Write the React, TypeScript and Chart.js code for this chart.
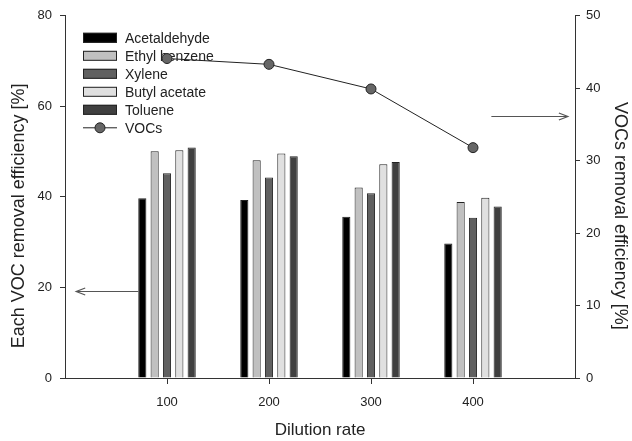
import React, { useEffect, useRef } from "react";
import { Chart, registerables } from "chart.js";

Chart.register(...registerables);

const dilutionRates = ["100", "200", "300", "400"];
const acetaldehyde = [39.7, 39.3, 35.6, 29.7];
const ethylBenzene = [50.1, 48.1, 42.1, 38.9];
const xylene = [45.2, 44.3, 40.8, 35.4];
const butylAcetate = [50.3, 49.6, 47.2, 39.8];
const toluene = [50.9, 49.0, 47.7, 37.9];
const vocs = [44.1, 43.3, 39.9, 31.8];
const leftTicks = [0, 20, 40, 60, 80];
const rightTicks = [0, 10, 20, 30, 40, 50];

const leftTitle = "Each VOC removal efficiency [%]";
const rightTitle = "VOCs removal efficiency [%]";
const xTitle = "Dilution rate";

const FONT = "'Liberation Sans', Arial, sans-serif";

const pad = (arr: number[]) => [null, ...arr, null];

const barSeries = [
  { label: "Acetaldehyde", data: acetaldehyde, color: "#000000" },
  { label: "Ethyl benzene", data: ethylBenzene, color: "#c0c0c0" },
  { label: "Xylene", data: xylene, color: "#606060" },
  { label: "Butyl acetate", data: butylAcetate, color: "#e0e0e0" },
  { label: "Toluene", data: toluene, color: "#404040" },
];

const legendPlugin = {
  id: "customLegend",
  beforeDatasetsDraw(chart: any) {
    const ctx = chart.ctx;
    const area = chart.chartArea;
    const x0 = area.left + 18;
    const y0 = area.top + 22;
    const step = 18;
    ctx.save();
    ctx.font = `14px ${FONT}`;
    ctx.textBaseline = "middle";
    ctx.textAlign = "left";
    chart.data.datasets.forEach((ds: any, i: number) => {
      const cy = y0 + i * step;
      if (ds.type === "line") {
        ctx.strokeStyle = "#222";
        ctx.lineWidth = 1;
        ctx.beginPath();
        ctx.moveTo(x0, cy);
        ctx.lineTo(x0 + 34, cy);
        ctx.stroke();
        ctx.beginPath();
        ctx.arc(x0 + 17, cy, 5, 0, Math.PI * 2);
        ctx.fillStyle = "#666";
        ctx.fill();
        ctx.stroke();
      } else {
        ctx.fillStyle = ds.backgroundColor;
        ctx.fillRect(x0, cy - 5, 34, 10);
        ctx.strokeStyle = "#222";
        ctx.lineWidth = 1;
        ctx.strokeRect(x0 + 0.5, cy - 4.5, 33, 9);
      }
      ctx.fillStyle = "#222";
      ctx.fillText(ds.label, x0 + 42, cy + 1);
    });
    ctx.restore();
  },
};

function drawArrow(ctx: any, x1: number, y: number, x2: number) {
  const dir = Math.sign(x2 - x1);
  ctx.beginPath();
  ctx.moveTo(x1, y);
  ctx.lineTo(x2, y);
  ctx.moveTo(x2 - dir * 9, y - 3.5);
  ctx.lineTo(x2, y);
  ctx.lineTo(x2 - dir * 9, y + 3.5);
  ctx.stroke();
}

const annotationPlugin = {
  id: "annotations",
  afterDraw(chart: any) {
    const ctx = chart.ctx;
    const xs = chart.scales.x;
    const yl = chart.scales.y;
    const yr = chart.scales.y1;
    ctx.save();
    ctx.strokeStyle = "#555";
    ctx.lineWidth = 1.2;
    const ly = Math.round(yl.getPixelForValue(19.3)) + 0.5;
    drawArrow(ctx, xs.getPixelForValue(0.72), ly, xs.getPixelForValue(0.11));
    const ry = Math.round(yr.getPixelForValue(36.2)) + 0.5;
    drawArrow(ctx, xs.getPixelForValue(4.18), ry, xs.getPixelForValue(4.93));

    // axis titles
    ctx.fillStyle = "#222";
    ctx.textAlign = "center";
    ctx.textBaseline = "middle";
    const midY = (yl.top + yl.bottom) / 2 + 19;
    ctx.save();
    ctx.translate(yl.left + 19, midY);
    ctx.rotate(-Math.PI / 2);
    ctx.font = `18px ${FONT}`;
    ctx.fillText(leftTitle, 0, 0);
    ctx.restore();
    ctx.save();
    ctx.translate(yr.right - 12, midY);
    ctx.rotate(Math.PI / 2);
    ctx.font = `18px ${FONT}`;
    ctx.fillText(rightTitle, 0, 0);
    ctx.restore();
    ctx.restore();
  },
};

export default function App() {
  const canvasRef = useRef<HTMLCanvasElement | null>(null);

  useEffect(() => {
    if (!canvasRef.current) return;
    const labels = ["0", ...dilutionRates, "500"];
    const chart = new Chart(canvasRef.current, {
      type: "bar",
      data: {
        labels,
        datasets: [
          ...barSeries.map((s) => ({
            type: "bar" as const,
            label: s.label,
            data: pad(s.data),
            backgroundColor: s.color,
            borderColor: "#222",
            borderWidth: 1,
            yAxisID: "y",
            categoryPercentage: 0.605,
            barPercentage: 0.66,
            order: 2,
          })),
          {
            type: "line" as const,
            label: "VOCs",
            data: pad(vocs),
            borderColor: "#222",
            borderWidth: 1,
            pointRadius: 5,
            pointBackgroundColor: "#666",
            pointBorderColor: "#222",
            pointBorderWidth: 1,
            tension: 0,
            yAxisID: "y1",
            order: 1,
          },
        ],
      } as any,
      options: {
        responsive: false,
        animation: false,
        layout: { padding: { top: 13, left: 0, right: 0, bottom: 0 } },
        plugins: {
          legend: { display: false },
          tooltip: { enabled: false },
        },
        scales: {
          x: {
            type: "category",
            offset: false,
            grid: {
              offset: false,
              drawOnChartArea: false,
              drawTicks: true,
              tickLength: 6,
              tickColor: (ctx: any) =>
                ctx.index === 0 || ctx.index === labels.length - 1 ? "rgba(0,0,0,0)" : "#333",
            },
            border: { color: "#333", width: 1 },
            ticks: {
              autoSkip: false,
              maxRotation: 0,
              padding: 11,
              color: "#222",
              font: { family: FONT, size: 13 },
              callback: (v: any, i: number) =>
                i === 0 || i === labels.length - 1 ? "" : labels[i],
            },
            title: {
              display: true,
              text: xTitle,
              color: "#222",
              font: { family: FONT, size: 17 },
              padding: { top: 0, bottom: 0 },
            },
            afterFit: (scale: any) => {
              scale.height = 63;
            },
          },
          y: {
            position: "left",
            min: 0,
            max: 80,
            afterBuildTicks: (scale: any) => {
              scale.ticks = leftTicks.map((v) => ({ value: v }));
            },
            grid: { drawOnChartArea: false, tickLength: 5, tickColor: "#333" },
            border: { color: "#333", width: 1 },
            ticks: {
              padding: 8,
              color: "#222",
              font: { family: FONT, size: 13 },
            },
            afterFit: (scale: any) => {
              scale.width = 65;
            },
          },
          y1: {
            position: "right",
            min: 0,
            max: 50,
            afterBuildTicks: (scale: any) => {
              scale.ticks = rightTicks.map((v) => ({ value: v }));
            },
            grid: { drawOnChartArea: false, tickLength: 5, tickColor: "#333" },
            border: { color: "#333", width: 1 },
            ticks: {
              padding: 6,
              color: "#222",
              font: { family: FONT, size: 13 },
            },
            afterFit: (scale: any) => {
              scale.width = 57;
            },
          },
        },
      } as any,
      plugins: [legendPlugin, annotationPlugin],
    });
    return () => chart.destroy();
  }, []);

  return (
    <div
      style={{
        position: "fixed",
        left: 0,
        top: 0,
        width: 632,
        height: 441,
        background: "#ffffff",
      }}
    >
      <canvas ref={canvasRef} width={632} height={441} style={{ display: "block" }} />
    </div>
  );
}
